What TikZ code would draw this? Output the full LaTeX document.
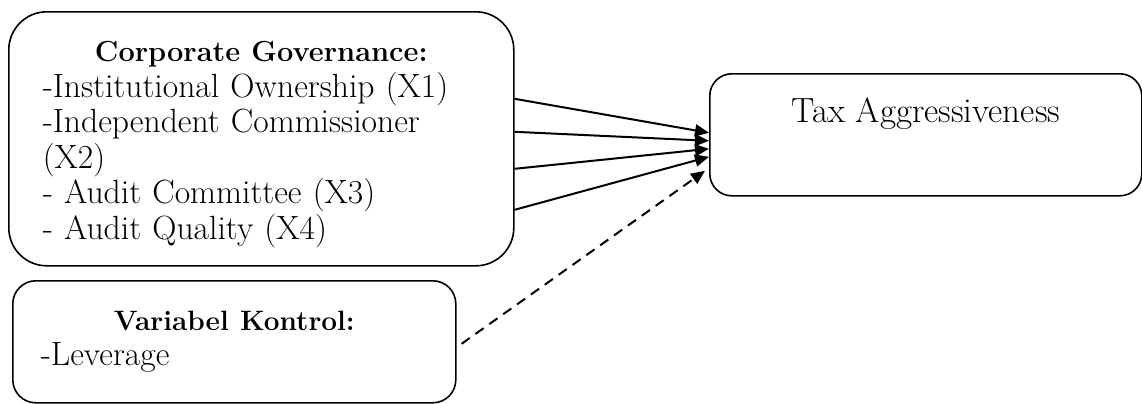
\documentclass[tikz,border=0pt]{standalone}
\usetikzlibrary{arrows.meta}

\begin{document}
\begin{tikzpicture}[x=0.5pt, y=-0.5pt,
    box/.style={draw, line width=0.8pt, inner ysep=0pt,
      font=\fontsize{16.8}{17.75}\selectfont},
    link/.style={line width=1pt, -{Triangle[length=7pt, width=6pt]}}]
  \useasboundingbox (0,0) rectangle (1142,403);

  % Define boxes
  \node [box, align=left, rounded corners=19pt, anchor=north west,
    minimum width=252.5pt, minimum height=127pt,
    text width=218.5pt, inner xsep=17pt] (cg) at (8,11)
    {\makebox[\linewidth]{\rule{0pt}{16pt}\fontsize{14.5}{17.75}\selectfont\bfseries Corporate Governance:}\\
     -Institutional Ownership (X1)\\
     -Independent Commissioner\\
     (X2)\\
     - Audit Committee (X3)\\
     - Audit Quality (X4)};
  \node [box, align=left, rounded corners=11.5pt, anchor=north west,
    minimum width=221.5pt, minimum height=61pt,
    text width=193.5pt, inner xsep=14pt] (vk) at (12,280)
    {\makebox[\linewidth]{\fontsize{14}{17.75}\selectfont\bfseries Variabel Kontrol:}\\
     -Leverage};
  \node [box, rounded corners=11pt, anchor=north west,
    minimum width=216pt, minimum height=61pt, font=\fontsize{17.5}{17.5}\selectfont,
    text height=10.5pt, text depth=23pt] (ta) at (709,73)
    {Tax Aggressiveness};

  % Draw edges
  \foreach \from/\to in {20/1, 3.5/-3, -15/-7, -35.5/-11}
    \draw [link] ([yshift=\from pt]cg.east) -- ([yshift=\to pt]ta.west);
  \draw [link, dash pattern=on 5pt off 3.5pt]
    ([xshift=2.5pt, yshift=-1pt]vk.east) -- ([xshift=-2pt, yshift=-18pt]ta.west);
\end{tikzpicture}
\end{document}
